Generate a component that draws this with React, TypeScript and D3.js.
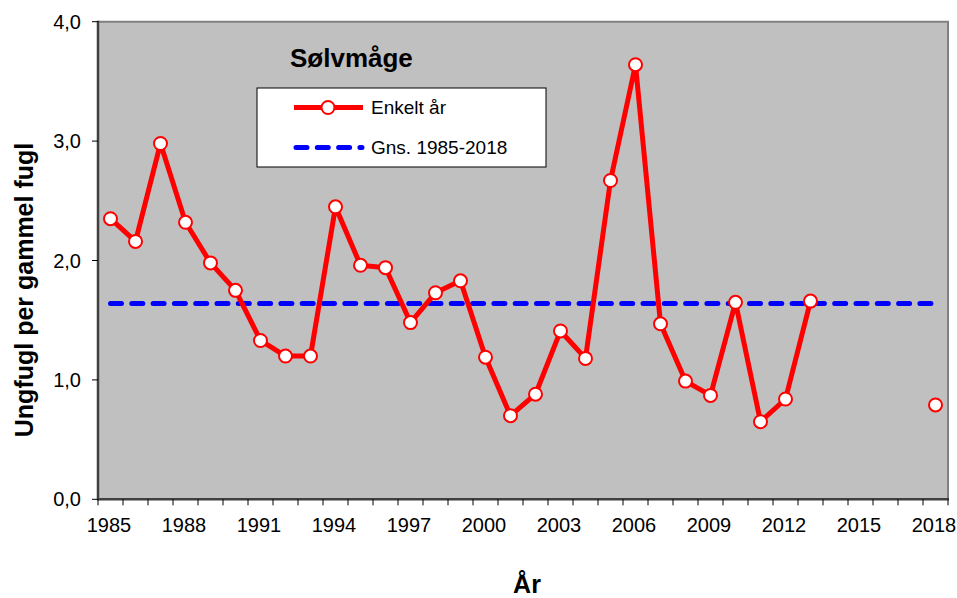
import React from "react";
import * as d3 from "d3";

const years: number[] = d3.range(1985, 2019);
const values: (number | null)[] = [
  2.35, 2.16, 2.98, 2.32, 1.98, 1.75, 1.33, 1.2, 1.2, 2.45,
  1.96, 1.94, 1.48, 1.73, 1.83, 1.19, 0.7, 0.88, 1.41, 1.18,
  2.67, 3.64, 1.47, 0.99, 0.87, 1.65, 0.65, 0.84, 1.66,
  null, null, null, null, 0.79,
];
const meanValue = 1.64;
const yTicks: number[] = [0, 1, 2, 3, 4];
const xLabelYears: number[] = [1985, 1988, 1991, 1994, 1997, 2000, 2003, 2006, 2009, 2012, 2015, 2018];
const title = "Sølvmåge";
const seriesName = "Enkelt år";
const meanName = "Gns. 1985-2018";
const yTitle = "Ungfugl per gammel fugl";
const xTitle = "År";

const FONT = "'Liberation Sans', Arial, sans-serif";

export default function App() {
  const W = 957, H = 598;
  const left = 98, right = 948, top = 21.7, bottom = 499.3;
  const x = d3.scaleBand<number>().domain(years).range([left, right]).padding(0);
  const cx = (yr: number) => (x(yr) as number) + x.bandwidth() / 2;
  const y = d3.scaleLinear().domain([0, 4]).range([bottom, top]);
  const data = years.map((yr, i) => ({ yr, v: values[i] }));
  const line = d3
    .line<{ yr: number; v: number | null }>()
    .defined((d) => d.v !== null)
    .x((d) => cx(d.yr))
    .y((d) => y(d.v as number));
  const fmt = (v: number) => v.toFixed(1).replace(".", ",");
  const boundaries = [...years.map((yr) => x(yr) as number), right];

  return (
    <svg
      width={W}
      height={H}
      style={{ position: "absolute", left: 0, top: 0, background: "#fff" }}
      fontFamily={FONT}
    >
      <rect x={left} y={top} width={right - left} height={bottom - top} fill="#C0C0C0" />
      {/* top & right border */}
      <path d={`M${left},${top}H${right}V${bottom}`} fill="none" stroke="#808080" strokeWidth={2} />
      {/* mean line */}
      <line
        x1={cx(years[0])}
        x2={cx(years[years.length - 1])}
        y1={y(meanValue)}
        y2={y(meanValue)}
        stroke="#0000FF"
        strokeWidth={5}
        strokeDasharray="11 10.3"
        strokeLinecap="round"
      />
      {/* series */}
      <path d={line(data) || ""} fill="none" stroke="#FF0000" strokeWidth={5} strokeLinejoin="round" />
      {data
        .filter((d) => d.v !== null)
        .map((d) => (
          <circle key={d.yr} cx={cx(d.yr)} cy={y(d.v as number)} r={6.5} fill="#fff" stroke="#FF0000" strokeWidth={2} />
        ))}
      {/* axes */}
      <line x1={left} x2={left} y1={top - 1} y2={bottom + 1} stroke="#404040" strokeWidth={2.5} />
      <line x1={left - 1} x2={right + 1} y1={bottom} y2={bottom} stroke="#404040" strokeWidth={2.5} />
      {yTicks.map((t) => (
        <g key={t}>
          <line x1={left - 6} x2={left} y1={y(t)} y2={y(t)} stroke="#000" strokeWidth={1} />
          <text x={81} y={y(t)} dy="0.35em" textAnchor="end" fontSize={20} fill="#000">
            {fmt(t)}
          </text>
        </g>
      ))}
      {boundaries.map((b, i) => (
        <line key={i} x1={b} x2={b} y1={bottom} y2={bottom + 6} stroke="#000" strokeWidth={1} />
      ))}
      {xLabelYears.map((yr) => (
        <text key={yr} x={cx(yr) - 1.5} y={532} textAnchor="middle" fontSize={20} fill="#000">
          {yr}
        </text>
      ))}
      {/* titles */}
      <text x={290} y={67} fontSize={26} fontWeight="bold" fill="#000">
        {title}
      </text>
      <text
        transform={`translate(33,290) rotate(-90)`}
        textAnchor="middle"
        fontSize={25}
        fontWeight="bold"
        fill="#000"
      >
        {yTitle}
      </text>
      <text x={527} y={593} textAnchor="middle" fontSize={25} fontWeight="bold" fill="#000">
        {xTitle}
      </text>
      {/* legend */}
      <rect x={257} y={88} width={289} height={79} fill="#fff" stroke="#000" strokeWidth={1} />
      <line x1={294} x2={363} y1={107.5} y2={107.5} stroke="#FF0000" strokeWidth={5} />
      <circle cx={328} cy={107.5} r={6.5} fill="#fff" stroke="#FF0000" strokeWidth={2} />
      <text x={371} y={114} fontSize={19} fill="#000">
        {seriesName}
      </text>
      <line
        x1={296}
        x2={362}
        y1={147.5}
        y2={147.5}
        stroke="#0000FF"
        strokeWidth={5}
        strokeDasharray="11 10.3"
        strokeLinecap="round"
      />
      <text x={371} y={154} fontSize={19} fill="#000">
        {meanName}
      </text>
    </svg>
  );
}
